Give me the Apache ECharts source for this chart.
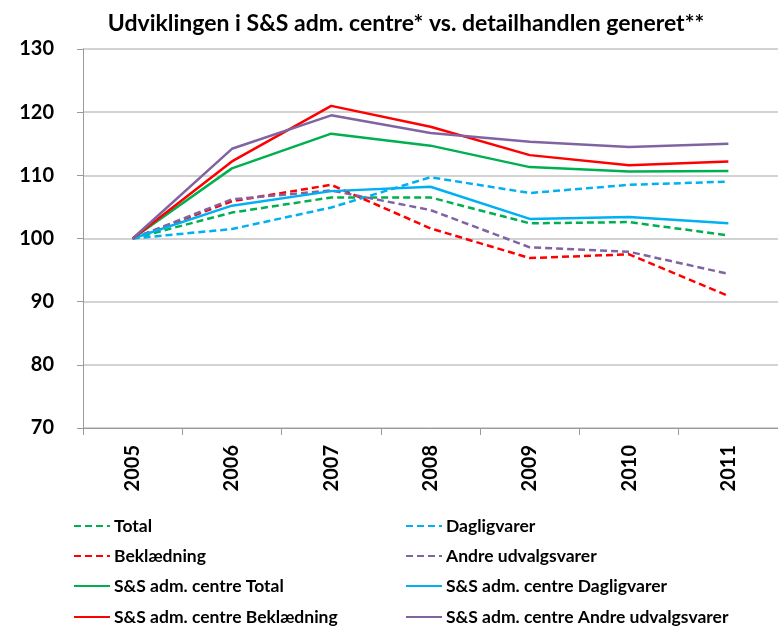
<!DOCTYPE html>
<html>
<head>
<meta charset="utf-8">
<script src="https://cdn.jsdelivr.net/npm/echarts@6/dist/echarts.min.js"></script>
<style>
  html, body { margin: 0; padding: 0; background: #fff; }
  #chart { width: 778px; height: 627px; }
</style>
</head>
<body>
<div id="chart"></div>
<script>
var years = ['2005', '2006', '2007', '2008', '2009', '2010', '2011'];
var yTicks = [70, 80, 90, 100, 110, 120, 130];

// detailhandlen (stiplet)
var total = [100, 104.1, 106.5, 106.5, 102.4, 102.6, 100.5];
var dagligvarer = [100, 101.5, 104.9, 109.7, 107.2, 108.5, 109.0];
var beklaedning = [100, 105.9, 108.5, 101.6, 96.9, 97.5, 90.9];
var andre = [100, 106.2, 107.6, 104.5, 98.6, 97.9, 94.4];

// S&S adm. centre (fuldt optrukket)
var ssTotal = [100, 111.1, 116.6, 114.7, 111.3, 110.6, 110.7];
var ssDagligvarer = [100, 105.2, 107.5, 108.2, 103.1, 103.4, 102.4];
var ssBeklaedning = [100, 112.2, 121.0, 117.7, 113.2, 111.6, 112.2];
var ssAndre = [100, 114.2, 119.5, 116.7, 115.3, 114.5, 115.0];

// legend layout: venstre kolonne / hoejre kolonne
var legendLeft = ['Total', 'Beklædning', 'S&S adm. centre Total', 'S&S adm. centre Beklædning'];
var legendRight = ['Dagligvarer', 'Andre udvalgsvarer', 'S&S adm. centre Dagligvarer', 'S&S adm. centre Andre udvalgsvarer'];
var legendRows = [527, 557, 587, 618];

var green = '#00B050', blue = '#00B0F0', red = '#FF0000', purple = '#8064A2';
var fnt = 'Lato, "Liberation Sans", sans-serif';

function line(name, data, color, dashed) {
	return {
		name: name,
		type: 'line',
		data: data,
		symbol: 'none',
		smooth: false,
		color: color,
		lineStyle: {
			color: color,
			width: 2.5,
			type: dashed ? [7, 4] : 'solid'
		},
		emphasis: { disabled: true }
	};
}

function legendItem(name, x, y) {
	return {
		data: [name],
		left: x,
		top: y - 10,
		padding: 0,
		itemWidth: 36,
		itemHeight: 14,
		itemGap: 0,
		itemStyle: { opacity: 0 },
		selectedMode: false,
		textStyle: { fontFamily: fnt, fontSize: 17.5, fontWeight: 'bold', color: '#000', padding: [0, 0, 0, -1] }
	};
}

var legends = [];
for (var i = 0; i < legendRows.length; i++) {
	legends.push(legendItem(legendLeft[i], 73, legendRows[i]));
	legends.push(legendItem(legendRight[i], 405, legendRows[i]));
}

var chart = echarts.init(document.getElementById('chart'));

var option = {
	animation: false,
	title: {
		text: 'Udviklingen i S&S adm. centre* vs. detailhandlen generet**',
		left: 401,
		textAlign: 'center',
		top: 7,
		textStyle: { fontFamily: fnt, fontSize: 23, fontWeight: 'bold', color: '#000' }
	},
	legend: legends,
	grid: { left: 83, top: 49, width: 702, height: 379, containLabel: false },
	xAxis: {
		type: 'category',
		data: years,
		boundaryGap: true,
		axisLine: { lineStyle: { color: '#9a9a9a', width: 1 } },
		axisTick: { show: true, length: 7, lineStyle: { color: '#9a9a9a' } },
		axisLabel: {
			rotate: 90,
			margin: 17,
			fontFamily: fnt,
			fontSize: 20,
			fontWeight: 'bold',
			color: '#000'
		}
	},
	yAxis: {
		type: 'value',
		min: yTicks[0],
		max: yTicks[yTicks.length - 1],
		interval: 10,
		axisLine: { show: true, lineStyle: { color: '#9a9a9a', width: 1 } },
		axisTick: { show: true, length: 6, lineStyle: { color: '#9a9a9a' } },
		axisLabel: {
			margin: 29,
			fontFamily: fnt,
			fontSize: 20,
			fontWeight: 'bold',
			color: '#000'
		},
		splitLine: { show: true, lineStyle: { color: '#c4c4c4', width: 1.5 } }
	},
	series: [
		line('Total', total, green, true),
		line('Dagligvarer', dagligvarer, blue, true),
		line('Beklædning', beklaedning, red, true),
		line('Andre udvalgsvarer', andre, purple, true),
		line('S&S adm. centre Total', ssTotal, green, false),
		line('S&S adm. centre Dagligvarer', ssDagligvarer, blue, false),
		line('S&S adm. centre Beklædning', ssBeklaedning, red, false),
		line('S&S adm. centre Andre udvalgsvarer', ssAndre, purple, false)
	]
};

chart.setOption(option);
</script>
</body>
</html>
